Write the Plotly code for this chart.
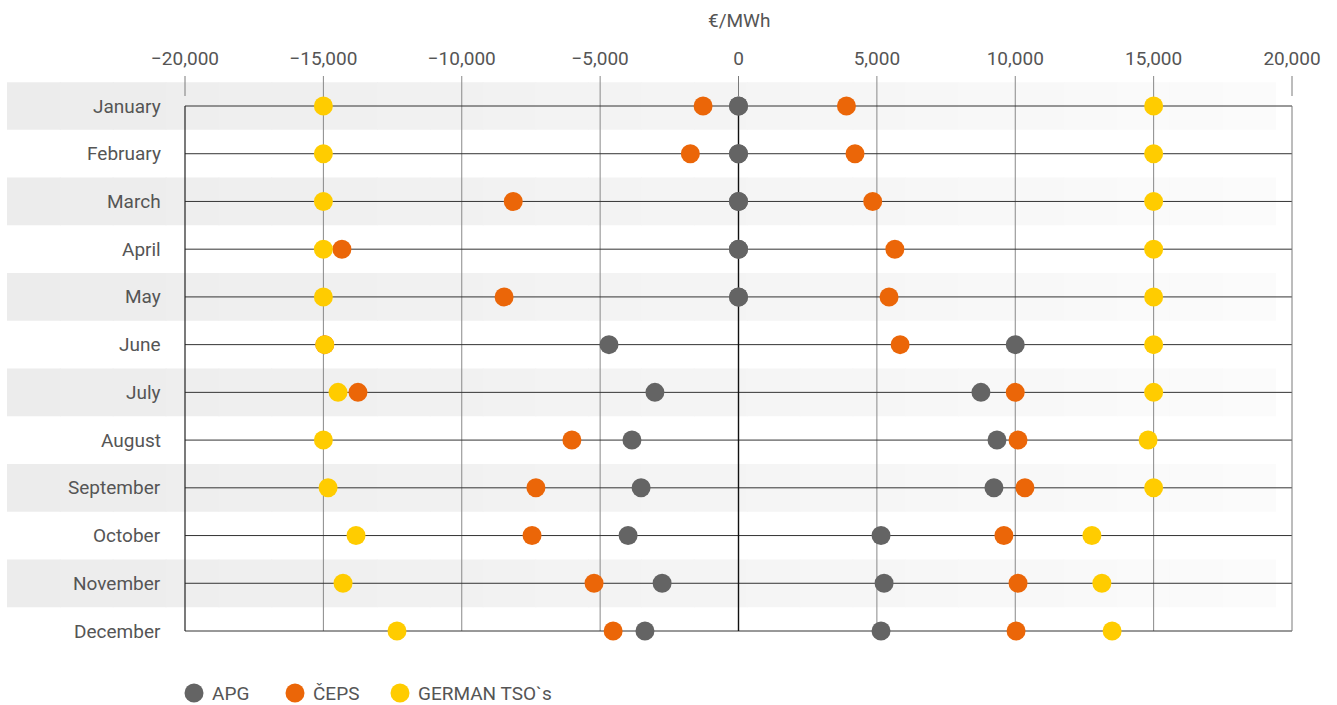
import plotly.graph_objects as go

# Monthly balancing price ranges (min / max) per TSO, in EUR/MWh
months = ["January", "February", "March", "April", "May", "June", "July",
          "August", "September", "October", "November", "December"]

apg_min = [0, 0, 0, 0, 0, -4680, -3020, -3850, -3520, -3990, -2760, -3380]
apg_max = [0, 0, 0, 0, 0, 10000, 8760, 9340, 9230, 5150, 5260, 5150]

ceps_min = [-1280, -1740, -8140, -14330, -8470, -14950, -13750, -6020, -7320, -7460, -5220, -4530]
ceps_max = [3900, 4210, 4850, 5650, 5440, 5840, 10000, 10100, 10350, 9590, 10100, 10030]

german_min = [-15000, -15000, -15000, -15000, -15000, -14950, -14470, -15000, -14830, -13820, -14290, -12340]
german_max = [15000, 15000, 15000, 15000, 15000, 15000, 15000, 14800, 15000, 12770, 13130, 13500]

tick_values = [-20000, -15000, -10000, -5000, 0, 5000, 10000, 15000, 20000]
series = [
    ("APG", apg_min, apg_max, "#646464"),
    ("ČEPS", ceps_min, ceps_max, "#eb6608"),
    ("GERMAN TSO`s", german_min, german_max, "#ffcc00"),
]

FONT = "Roboto"
FS = 19
TEXT = "#555555"
W, H = 1337, 705
L, R, T, B = 175, 35, 70, 50
plot_w = W - L - R
plot_h = H - T - B
x_lo, x_hi = tick_values[0], tick_values[-1]
pad = (x_hi - x_lo) * 10 / 1107.0
n = len(months)
rows = list(range(n))
row_px = 525 / (n - 1)

fig = go.Figure()

shapes = []
# alternating row bands, fading to white towards the right
steps = 24
band_left = (7 - L) / plot_w
band_right = (1275 - L) / plot_w
for i in rows:
    if i % 2:
        continue
    for s in range(steps):
        f0 = band_left + (band_right - band_left) * s / steps
        f1 = band_left + (band_right - band_left) * (s + 1) / steps
        g = int(round(236 + (251 - 236) * s / (steps - 1)))
        shapes.append(dict(type="rect", xref="paper", yref="y", x0=f0, x1=f1 + 0.001,
                           y0=i - 0.5, y1=i + 0.5, line_width=0,
                           fillcolor=f"rgb({g},{g},{g})", layer="below"))

# vertical grid lines and tick marks
tick_top, tick_bot = -30 / row_px, -10 / row_px
for v in tick_values:
    if v in (x_lo, x_hi, 0):
        shapes.append(dict(type="line", xref="x", yref="y", x0=v, x1=v, y0=tick_top, y1=tick_bot,
                           line=dict(color="#7a7a7a", width=1), layer="below"))
    else:
        shapes.append(dict(type="line", xref="x", yref="y", x0=v, x1=v, y0=tick_top, y1=n - 1,
                           line=dict(color="#888888", width=1), layer="below"))

# row lines
for i in rows:
    shapes.append(dict(type="line", xref="x", yref="y", x0=x_lo, x1=x_hi, y0=i, y1=i,
                       line=dict(color="#333333", width=1), layer="below"))

# frame and zero line
shapes.append(dict(type="line", xref="x", yref="y", x0=x_lo, x1=x_lo, y0=0, y1=n - 1,
                   line=dict(color="#222222", width=1.2), layer="below"))
shapes.append(dict(type="line", xref="x", yref="y", x0=x_hi, x1=x_hi, y0=0, y1=n - 1,
                   line=dict(color="#7a7a7a", width=1), layer="below"))
shapes.append(dict(type="line", xref="x", yref="y", x0=0, x1=0, y0=0, y1=n - 1,
                   line=dict(color="#111111", width=1.4), layer="below"))

for name, lo, hi, color in series:
    fig.add_trace(go.Scatter(
        x=lo + hi, y=rows + rows, mode="markers", name=name,
        marker=dict(size=19, color=color, line_width=0),
        cliponaxis=False, showlegend=False,
    ))

annotations = [dict(text="€/MWh", xref="paper", yref="paper", x=0.5, y=(H - B - 20) / plot_h,
                    showarrow=False, font=dict(family=FONT, size=FS, color=TEXT), yanchor="middle")]
for i, m in enumerate(months):
    annotations.append(dict(text=m, xref="paper", yref="y", x=(163 - L) / plot_w, y=i,
                            xanchor="right", yanchor="middle", showarrow=False,
                            font=dict(family=FONT, size=FS, color=TEXT)))

# legend row below the chart
legend_y = (H - B - 693) / plot_h
legend_x = [194, 295, 400]
for (name, _, _, color), lx in zip(series, legend_x):
    px = (lx - L) / plot_w
    shapes.append(dict(type="circle", xref="paper", yref="paper", xsizemode="pixel", ysizemode="pixel",
                       xanchor=px, yanchor=legend_y, x0=-9.5, x1=9.5, y0=-9.5, y1=9.5,
                       fillcolor=color, line_width=0))
    annotations.append(dict(text=name, xref="paper", yref="paper", x=(lx + 16 - L) / plot_w, y=legend_y,
                            xanchor="left", yanchor="middle", showarrow=False,
                            font=dict(family=FONT, size=FS, color=TEXT)))

fig.update_layout(
    width=W, height=H,
    margin=dict(l=L, r=R, t=T, b=B, autoexpand=False),
    paper_bgcolor="white", plot_bgcolor="rgba(0,0,0,0)",
    shapes=shapes, annotations=annotations,
    font=dict(family=FONT, size=FS, color=TEXT),
    xaxis=dict(side="top", range=[x_lo - pad, x_hi + pad], tickvals=tick_values,
               tickformat=",", showgrid=False, zeroline=False, showline=False, ticks="",
               tickfont=dict(family=FONT, size=FS, color=TEXT), fixedrange=True),
    yaxis=dict(range=[n - 1 + 24 / row_px, -(106 - T) / row_px], showticklabels=False,
               showgrid=False, zeroline=False, showline=False, fixedrange=True),
    showlegend=False,
)

fig.write_html("out.html")
